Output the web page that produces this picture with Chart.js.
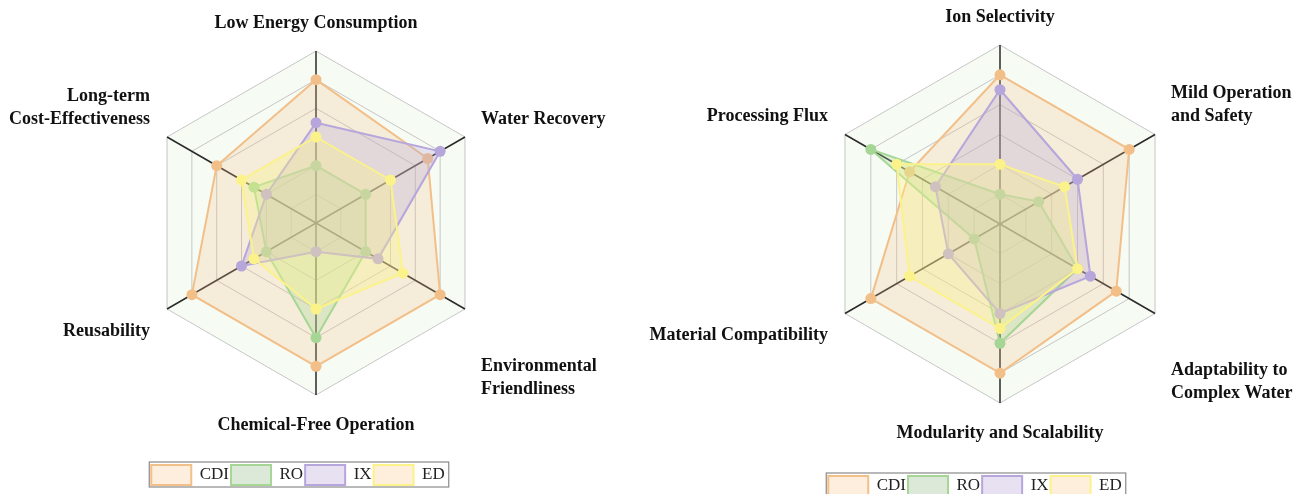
<!DOCTYPE html>
<html>
<head>
<meta charset="utf-8">
<script src="https://cdn.jsdelivr.net/npm/chart.js@4/dist/chart.umd.min.js"></script>
<style>
  body { margin: 0; background: #fff; }
  .wrap { display: flex; width: 1297px; height: 494px; overflow: hidden; }
  canvas { display: block; }
</style>
</head>
<body>
<div class="wrap">
  <canvas id="leftChart" width="648" height="494"></canvas>
  <canvas id="rightChart" width="649" height="494"></canvas>
</div>
<script>
// series names
const seriesNames = ['CDI', 'RO', 'IX', 'ED'];

// left radar
const leftLabels = ['Low Energy Consumption', 'Water Recovery', ['Environmental', 'Friendliness'],
  'Chemical-Free Operation', 'Reusability', ['Long-term', 'Cost-Effectiveness']];
const leftCDI = [5, 4.5, 5, 5, 5, 4];
const leftRO = [2, 2, 2, 4, 2, 2.5];
const leftIX = [3.5, 5, 2.5, 1, 3, 2];
const leftED = [3, 3, 3.5, 3, 2.5, 3];

// right radar
const rightLabels = ['Ion Selectivity', ['Mild Operation', 'and Safety'], ['Adaptability to', 'Complex Water'],
  'Modularity and Scalability', 'Material Compatibility', 'Processing Flux'];
const rightCDI = [5, 5, 4.5, 5, 5, 3.5];
const rightRO = [1, 1.5, 3, 4, 1, 5];
const rightIX = [4.5, 3, 3.5, 3, 2, 2.5];
const rightED = [2, 2.5, 3, 3.5, 3.5, 4];

const lineColors = ['#f3bf88', '#a6d696', '#b6a6dc', '#fbf38a'];
const fillColors = ['rgba(243,191,136,0.25)', 'rgba(166,214,150,0.3)', 'rgba(182,166,220,0.3)', 'rgba(251,243,138,0.35)'];
const legendFills = ['#fdeedd', '#dde9d8', '#e7e1f1', '#fdefdc'];

// axis names drawn round the outer ring
const axisLabels = {
  id: 'axisLabels',
  afterDraw(chart) {
    const s = chart.scales.r;
    const ctx = chart.ctx;
    const lh = 23;
    ctx.save();
    ctx.font = 'bold 18px "Liberation Serif", "Times New Roman", serif';
    ctx.fillStyle = '#111';
    ctx.textBaseline = 'middle';
    chart.data.labels.forEach((lab, i) => {
      const lines = [].concat(lab);
      const n = lines.length;
      const p = s.getPointPosition(i, s.drawingArea);
      let x = p.x, y0;
      if (i === 0) { ctx.textAlign = 'center'; y0 = p.y - 28 - (n - 1) * lh; }
      else if (i === 1) { ctx.textAlign = 'left'; x += 16; y0 = p.y - 18 - (n - 1) * lh; }
      else if (i === 2) { ctx.textAlign = 'left'; x += 16; y0 = n > 1 ? p.y + 57 : p.y + 22; }
      else if (i === 3) { ctx.textAlign = 'center'; y0 = p.y + 30; }
      else if (i === 4) { ctx.textAlign = 'right'; x -= 17; y0 = n > 1 ? p.y + 57 : p.y + 22; }
      else { ctx.textAlign = 'right'; x -= 17; y0 = p.y - 18 - (n - 1) * lh; }
      lines.forEach((t, k) => ctx.fillText(t, x, y0 + k * lh));
    });
    ctx.restore();
  }
};

// move legend down under the radar and frame it
const legendBox = {
  id: 'legendBox',
  afterLayout(chart, args, opts) {
    const lg = chart.legend;
    lg.left += opts.dx; lg.right += opts.dx;
    lg.top += opts.dy; lg.bottom += opts.dy;
  },
  afterDraw(chart) {
    const hb = chart.legend.legendHitBoxes;
    if (!hb || !hb.length) return;
    const first = hb[0], last = hb[hb.length - 1];
    const ctx = chart.ctx;
    ctx.save();
    ctx.strokeStyle = '#8a8a8a';
    ctx.lineWidth = 1.2;
    ctx.strokeRect(first.left - 2, first.top - 3, last.left + last.width - first.left + 6, first.height + 5);
    ctx.restore();
  }
};

function makeRadar(id, labels, values, pad, shift) {
  const datasets = values.map((v, i) => ({
    label: seriesNames[i],
    data: v,
    order: values.length - 1 - i,
    borderColor: lineColors[i],
    backgroundColor: fillColors[i],
    pointBackgroundColor: lineColors[i],
    pointBorderColor: lineColors[i],
    pointRadius: 5.5,
    pointBorderWidth: 0,
    borderWidth: 2,
    fill: true
  }));
  return new Chart(document.getElementById(id), {
    type: 'radar',
    data: { labels: labels, datasets: datasets },
    plugins: [axisLabels, legendBox],
    options: {
      responsive: false,
      animation: false,
      layout: { padding: pad },
      elements: { line: { tension: 0 } },
      scales: {
        r: {
          min: 0,
          max: 6,
          backgroundColor: '#f6fbf4',
          ticks: { stepSize: 1, display: false },
          grid: { color: '#c6c6c6', lineWidth: 1 },
          angleLines: { color: '#2a2a2a', lineWidth: 1.5 },
          pointLabels: { display: false }
        }
      },
      plugins: {
        tooltip: { enabled: false },
        legendBox: shift,
        legend: {
          position: 'bottom',
          labels: {
            boxWidth: 40,
            boxHeight: 20,
            padding: 2,
            color: '#222',
            font: { family: '"Liberation Serif", "Times New Roman", serif', size: 17 },
            generateLabels(ch) {
              return ch.data.datasets.map((d, i) => ({
                text: d.label,
                datasetIndex: i,
                fillStyle: legendFills[i],
                strokeStyle: lineColors[i],
                lineWidth: 2,
                fontColor: '#222',
                hidden: false
              }));
            }
          }
        }
      }
    }
  });
}

makeRadar('leftChart', leftLabels, [leftCDI, leftRO, leftIX, leftED],
  { left: 144, right: 160, top: 51, bottom: 67 }, { dx: -18, dy: 68 });
makeRadar('rightChart', rightLabels, [rightCDI, rightRO, rightIX, rightED],
  { left: 173, right: 118, top: 45, bottom: 59 }, { dx: -25, dy: 71 });
</script>
</body>
</html>
